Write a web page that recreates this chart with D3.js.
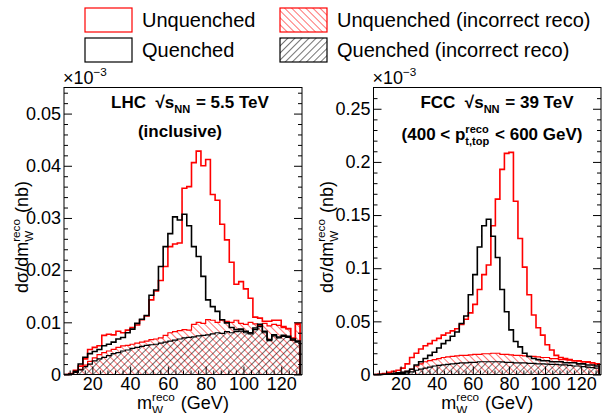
<!DOCTYPE html>
<html>
<head>
<meta charset="utf-8">
<script src="https://cdn.jsdelivr.net/npm/d3@7"></script>
<style>
  body { margin: 0; background: #fff; }
  svg { display: block; font-family: "Liberation Sans", Arial, Helvetica, sans-serif; }
</style>
</head>
<body>
<div id="chart"></div>
<script>
// bin edges in GeV (50 bins of 2.5 GeV)
const binEdges = [5, 7.5, 10, 12.5, 15, 17.5, 20, 22.5, 25, 27.5, 30, 32.5, 35, 37.5, 40, 42.5, 45, 47.5,
    50, 52.5, 55, 57.5, 60, 62.5, 65, 67.5, 70, 72.5, 75, 77.5, 80, 82.5, 85, 87.5, 90, 92.5, 95, 97.5,
    100, 102.5, 105, 107.5, 110, 112.5, 115, 117.5, 120, 122.5, 125, 127.5, 130]

// LHC 5.5 TeV, inclusive
const lhcUnquenched = [0, 0.0002, 0.0008, 0.0016, 0.0030, 0.0048, 0.0052, 0.0055, 0.0075, 0.0077,
    0.0076, 0.0083, 0.0080, 0.0085, 0.0090, 0.0095, 0.0105, 0.0112, 0.0143, 0.0160,
    0.0180, 0.0207, 0.0245, 0.0250, 0.0252, 0.0357, 0.0360, 0.0406, 0.0428, 0.0400,
    0.0412, 0.0345, 0.0334, 0.0288, 0.0258, 0.0215, 0.0173, 0.0178, 0.0164, 0.0146,
    0.0110, 0.0108, 0.0102, 0.0102, 0.0104, 0.0104, 0.0092, 0.0088, 0.0070, 0.0098]
const lhcQuenched = [0, 0.0001, 0.0006, 0.0020, 0.0033, 0.0040, 0.0044, 0.0048, 0.0055, 0.0058,
    0.0062, 0.0068, 0.0071, 0.0080, 0.0087, 0.0098, 0.0106, 0.0113, 0.0152, 0.0162,
    0.0207, 0.0245, 0.0270, 0.0302, 0.0296, 0.0307, 0.0285, 0.0245, 0.0226, 0.0188,
    0.0143, 0.0130, 0.0121, 0.0105, 0.0099, 0.0090, 0.0086, 0.0087, 0.0083, 0.0080,
    0.0089, 0.0096, 0.0083, 0.0067, 0.0076, 0.0072, 0.0075, 0.0073, 0.0068, 0.0064]
const lhcUnquenchedWrong = [0, 0.0001, 0.0004, 0.0010, 0.0018, 0.0025, 0.0032, 0.0038, 0.0042, 0.0045,
    0.0048, 0.0052, 0.0055, 0.0056, 0.0058, 0.0060, 0.0062, 0.0064, 0.0067, 0.0068,
    0.0070, 0.0075, 0.0080, 0.0082, 0.0084, 0.0086, 0.0085, 0.0096, 0.0100, 0.0098,
    0.0105, 0.0104, 0.0100, 0.0104, 0.0102, 0.0100, 0.0104, 0.0098, 0.0096, 0.0100,
    0.0097, 0.0094, 0.0098, 0.0093, 0.0096, 0.0094, 0.0090, 0.0088, 0.0066, 0.0096]
const lhcQuenchedWrong = [0, 0.0001, 0.0004, 0.0009, 0.0015, 0.0020, 0.0026, 0.0030, 0.0033, 0.0036,
    0.0040, 0.0042, 0.0045, 0.0047, 0.0050, 0.0052, 0.0054, 0.0056, 0.0057, 0.0058,
    0.0060, 0.0062, 0.0064, 0.0066, 0.0068, 0.0070, 0.0071, 0.0072, 0.0074, 0.0075,
    0.0076, 0.0078, 0.0080, 0.0079, 0.0082, 0.0080, 0.0082, 0.0083, 0.0080, 0.0078,
    0.0086, 0.0092, 0.0080, 0.0065, 0.0074, 0.0070, 0.0073, 0.0071, 0.0066, 0.0062]

// FCC 39 TeV, 400 < pt < 600 GeV
const fccUnquenched = [0, 0.0005, 0.001, 0.002, 0.003, 0.004, 0.006, 0.010, 0.016, 0.020,
    0.024, 0.027, 0.029, 0.032, 0.034, 0.037, 0.039, 0.041, 0.043, 0.047,
    0.052, 0.058, 0.066, 0.080, 0.094, 0.103, 0.140, 0.165, 0.193, 0.208,
    0.209, 0.163, 0.128, 0.101, 0.075, 0.056, 0.044, 0.037, 0.028, 0.023,
    0.018, 0.016, 0.015, 0.014, 0.013, 0.013, 0.012, 0.012, 0.011, 0.010]
const fccQuenched = [0, 0, 0.0003, 0.0005, 0.001, 0.0015, 0.002, 0.003, 0.005, 0.009,
    0.012, 0.015, 0.018, 0.021, 0.025, 0.029, 0.032, 0.036, 0.040, 0.048,
    0.055, 0.075, 0.094, 0.120, 0.140, 0.146, 0.130, 0.110, 0.080, 0.059,
    0.042, 0.031, 0.026, 0.020, 0.017, 0.015, 0.014, 0.013, 0.013, 0.012,
    0.012, 0.012, 0.011, 0.011, 0.011, 0.010, 0.010, 0.009, 0.009, 0.008]
const fccUnquenchedWrong = [0, 0, 0.0003, 0.0006, 0.001, 0.0015, 0.002, 0.003, 0.005, 0.008,
    0.010, 0.012, 0.013, 0.014, 0.015, 0.016, 0.0165, 0.017, 0.0175, 0.018,
    0.018, 0.0185, 0.019, 0.019, 0.0195, 0.0195, 0.020, 0.020, 0.019, 0.019,
    0.0185, 0.018, 0.018, 0.0175, 0.017, 0.017, 0.0165, 0.016, 0.016, 0.015,
    0.015, 0.014, 0.014, 0.0135, 0.013, 0.0125, 0.012, 0.0115, 0.011, 0.010]
const fccQuenchedWrong = [0, 0, 0.0002, 0.0003, 0.0005, 0.0008, 0.001, 0.0015, 0.0025, 0.004,
    0.005, 0.006, 0.007, 0.008, 0.0085, 0.009, 0.0095, 0.010, 0.0105, 0.011,
    0.011, 0.0115, 0.0115, 0.012, 0.012, 0.012, 0.012, 0.012, 0.0118, 0.0115,
    0.0115, 0.011, 0.011, 0.011, 0.0105, 0.0105, 0.010, 0.010, 0.0098, 0.0095,
    0.0095, 0.009, 0.009, 0.0085, 0.008, 0.008, 0.0075, 0.007, 0.0065, 0.006]

// axis ticks
const xTicks = [20, 40, 60, 80, 100, 120]
const lhcYTicks = [0, 0.01, 0.02, 0.03, 0.04, 0.05]
const fccYTicks = [0, 0.05, 0.1, 0.15, 0.2, 0.25]

const legendItems = [
    { label: 'Unquenched', color: 'red', hatch: null },
    { label: 'Unquenched (incorrect reco)', color: 'red', hatch: 'hatchRed' },
    { label: 'Quenched', color: 'black', hatch: null },
    { label: 'Quenched (incorrect reco)', color: 'black', hatch: 'hatchBlack' }
]

const width = 603
const height = 413
const red = '#ff0000'

const svg = d3.select('#chart')
    .append('svg')
    .attr('width', width)
    .attr('height', height)

// hatch patterns: red "\\\" and black "///"
const defs = svg.append('defs')
function hatch(id, color, angle) {
    defs.append('pattern')
        .attr('id', id)
        .attr('patternUnits', 'userSpaceOnUse')
        .attr('width', 5)
        .attr('height', 5)
        .attr('patternTransform', `rotate(${angle})`)
        .append('line')
        .attr('x1', 0).attr('y1', 0)
        .attr('x2', 0).attr('y2', 5)
        .attr('stroke', color)
        .attr('stroke-width', 1.1)
}
hatch('hatchRed', red, -45)
hatch('hatchBlack', 'black', 45)

// text with stacked super/subscripts, returns total width
function richText(g, parts, size, weight) {
    const el = g.append('text')
        .attr('font-size', size)
        .attr('font-weight', weight || 'normal')
        .style('white-space', 'pre')
    let x = 0
    parts.forEach(p => {
        if (p.t !== undefined) {
            const t = el.append('tspan').attr('x', x).attr('y', 0).text(p.t)
            x += t.node().getComputedTextLength()
        } else {
            let w = 0
            if (p.sup) {
                const s = el.append('tspan').attr('x', x).attr('y', -size * 0.42)
                    .attr('font-size', size * 0.65).text(p.sup)
                w = Math.max(w, s.node().getComputedTextLength())
            }
            if (p.sub) {
                const s = el.append('tspan').attr('x', x).attr('y', size * 0.3)
                    .attr('font-size', size * 0.65).text(p.sub)
                w = Math.max(w, s.node().getComputedTextLength())
            }
            x += w + 1
        }
    })
    return x
}

function centeredText(parts, cx, cy, size, weight, rotate) {
    const g = svg.append('g')
    const w = richText(g, parts, size, weight)
    if (rotate) {
        g.attr('transform', `translate(${cx},${cy}) rotate(-90) translate(${-w / 2},0)`)
    } else {
        g.attr('transform', `translate(${cx - w / 2},${cy})`)
    }
}

function drawPanel(p) {
    const x = d3.scaleLinear().domain([5, 131]).range([p.left, p.right])
    const y = d3.scaleLinear().domain([0, p.yMax]).range([p.bottom, p.top])

    const stepPts = vals => {
        const pts = vals.map((v, i) => [binEdges[i], v])
        pts.push([binEdges[vals.length], vals[vals.length - 1]])
        return pts
    }
    const line = d3.line().curve(d3.curveStepAfter)
        .x(d => x(d[0])).y(d => y(d[1]))
    const area = d3.area().curve(d3.curveStepAfter)
        .x(d => x(d[0])).y0(y(0)).y1(d => y(d[1]))
    const closed = vals => [[binEdges[0], 0], ...stepPts(vals), [binEdges[vals.length], 0]]

    const g = svg.append('g')

    // hatched "incorrect reco" areas
    g.append('path').attr('d', area(stepPts(p.unqWrong)))
        .attr('fill', 'url(#hatchRed)').attr('stroke', red).attr('stroke-width', 1.2)
    g.append('path').attr('d', area(stepPts(p.qWrong)))
        .attr('fill', 'url(#hatchBlack)').attr('stroke', 'black').attr('stroke-width', 1.2)

    // full distributions
    g.append('path').attr('d', line(closed(p.unq)))
        .attr('fill', 'none').attr('stroke', red).attr('stroke-width', 1.6)
    g.append('path').attr('d', line(closed(p.q)))
        .attr('fill', 'none').attr('stroke', 'black').attr('stroke-width', 1.6)

    // axes, ticks inside
    const styleAxis = sel => {
        sel.select('.domain').remove()
        sel.selectAll('text').attr('font-size', 18).attr('fill', 'black')
            .attr('font-family', '"Liberation Sans", Arial, sans-serif')
    }
    const yMinor = d3.range(0, p.yMax, p.yMinorStep).filter(v => !p.yTicks.some(t => Math.abs(t - v) < 1e-9))
    const xMinor = d3.range(8, 131, 4).filter(v => v % 20 !== 0)

    g.append('g').attr('transform', `translate(${p.left},0)`)
        .call(d3.axisLeft(y).tickValues(p.yTicks).tickSize(-8).tickPadding(3)
            .tickFormat(v => v === 0 ? '0' : d3.format('~g')(+v.toFixed(4))))
        .call(styleAxis)
    g.append('g').attr('transform', `translate(${p.left},0)`)
        .call(d3.axisLeft(y).tickValues(yMinor).tickSize(-4).tickFormat(''))
        .call(styleAxis)
    g.append('g').attr('transform', `translate(${p.right},0)`)
        .call(d3.axisRight(y).tickValues(p.yTicks).tickSize(-8).tickFormat(''))
        .call(styleAxis)
    g.append('g').attr('transform', `translate(${p.right},0)`)
        .call(d3.axisRight(y).tickValues(yMinor).tickSize(-4).tickFormat(''))
        .call(styleAxis)
    g.append('g').attr('transform', `translate(0,${p.bottom})`)
        .call(d3.axisBottom(x).tickValues(xTicks).tickSize(-8).tickPadding(3))
        .call(styleAxis)
    g.append('g').attr('transform', `translate(0,${p.bottom})`)
        .call(d3.axisBottom(x).tickValues(xMinor).tickSize(-4).tickFormat(''))
        .call(styleAxis)

    // frame
    g.append('rect')
        .attr('x', p.left).attr('y', p.top)
        .attr('width', p.right - p.left).attr('height', p.bottom - p.top)
        .attr('fill', 'none').attr('stroke', 'black').attr('stroke-width', 1)

    // x10^-3 multiplier
    const m = svg.append('g').attr('transform', `translate(${p.left - 1},84)`)
    richText(m, [{ t: '×10' }, { sup: '−3' }], 18)

    // axis titles
    centeredText([{ t: 'dσ/dm' }, { sup: 'reco', sub: 'W' }, { t: ' (nb)' }],
        p.yTitleX, 237, 18, 'normal', true)
    centeredText([{ t: 'm' }, { sup: 'reco', sub: 'W' }, { t: ' (GeV)' }],
        (p.left + p.right) / 2, 409, 18)

    // labels
    centeredText(p.title1, p.titleX1, 108, 17, 'bold')
    centeredText(p.title2, p.titleX2, p.title2Y, 17, 'bold')
}

drawPanel({
    left: 64, right: 302, top: 87.5, bottom: 374.5, yTitleX: 28,
    yMax: 0.055, yTicks: lhcYTicks, yMinorStep: 0.002,
    unq: lhcUnquenched, q: lhcQuenched, unqWrong: lhcUnquenchedWrong, qWrong: lhcQuenchedWrong,
    title1: [{ t: 'LHC  √s' }, { sub: 'NN' }, { t: ' = 5.5 TeV' }], titleX1: 190,
    title2: [{ t: '(inclusive)' }], titleX2: 180, title2Y: 137
})

drawPanel({
    left: 373.5, right: 601, top: 87.5, bottom: 374.5, yTitleX: 333,
    yMax: 0.27, yTicks: fccYTicks, yMinorStep: 0.01,
    unq: fccUnquenched, q: fccQuenched, unqWrong: fccUnquenchedWrong, qWrong: fccQuenchedWrong,
    title1: [{ t: 'FCC  √s' }, { sub: 'NN' }, { t: ' = 39 TeV' }], titleX1: 497,
    title2: [{ t: '(400 < p' }, { sup: 'reco', sub: 't,top' }, { t: ' < 600 GeV)' }], titleX2: 492,
    title2Y: 140
})

// legend
const legendPos = [[85, 8], [280, 8], [85, 38], [280, 38]]
const legend = svg.append('g')
legendItems.forEach((d, i) => {
    const [lx, ly] = legendPos[i]
    legend.append('rect')
        .attr('x', lx).attr('y', ly)
        .attr('width', 47).attr('height', 24)
        .attr('fill', d.hatch ? `url(#${d.hatch})` : 'white')
        .attr('stroke', d.color).attr('stroke-width', 1.2)
    legend.append('text')
        .attr('x', lx + 57).attr('y', ly + 19)
        .attr('font-size', 20)
        .text(d.label)
})
</script>
</body>
</html>
